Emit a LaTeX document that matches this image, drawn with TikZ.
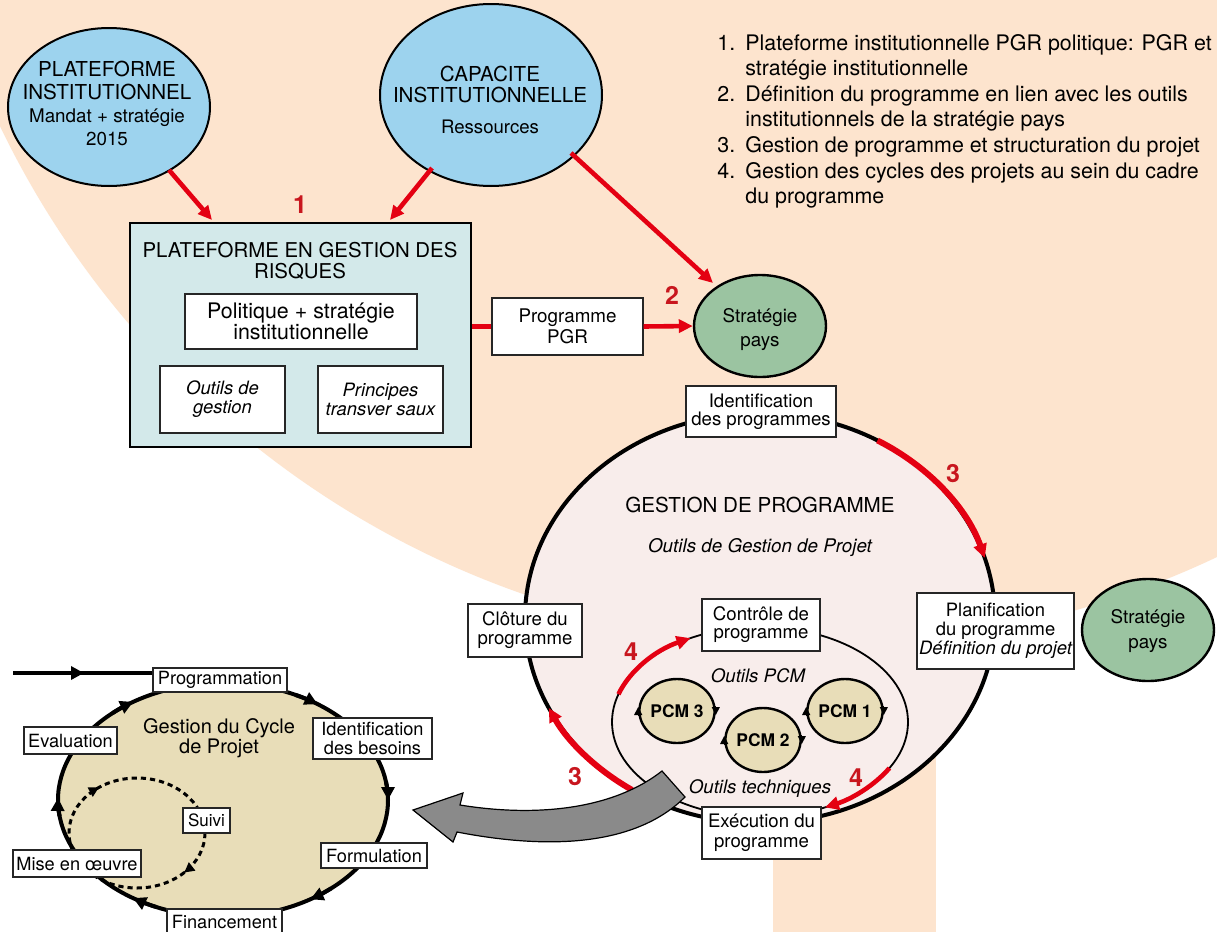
\documentclass[tikz,border=0pt]{standalone}
\usepackage{fontspec}
\setmainfont{TeX Gyre Heros}
\usetikzlibrary{arrows.meta,shapes.geometric}
\definecolor{peach}{RGB}{253,228,206}
\definecolor{skyb}{RGB}{157,211,238}
\definecolor{boxcyan}{RGB}{211,233,234}
\definecolor{sgreen}{RGB}{155,196,161}
\definecolor{tanfill}{RGB}{232,221,184}
\definecolor{pinkfill}{RGB}{248,237,235}
\definecolor{arrred}{RGB}{228,0,18}
\definecolor{numred}{RGB}{200,22,30}
\definecolor{grayarr}{RGB}{138,138,138}
\newcommand\myfs[2]{\fontsize{#1}{#2}\selectfont}
\tikzset{
  wbox/.style={draw=black!85, line width=0.6pt, fill=white, inner sep=0pt, align=center, font=\myfs{9.3}{9.4}},
  txt/.style={inner sep=0pt, align=center, font=\myfs{9.3}{9.6}},
  redline/.style={draw=arrred, line width=2.3pt},
  redarr/.style={draw=arrred, line width=2.3pt, -{Triangle[length=7pt,width=6.5pt]}},
  num/.style={inner sep=0pt, text=numred, font=\myfs{12.5}{12.5}\bfseries},
  blueell/.style={ellipse, draw=black, line width=1pt, fill=skyb, inner sep=0pt},
  greenell/.style={ellipse, draw=black, line width=1.2pt, fill=sgreen, inner sep=0pt},
  pcm/.style={ellipse, draw=black, line width=1.2pt, fill=tanfill, inner sep=0pt, minimum width=34pt, minimum height=32pt, font=\myfs{8.7}{9}\bfseries},
  tinyarr/.style={-{Triangle[length=4pt,width=4pt]}, line width=0.6pt},
  cyc/.style={-{Triangle[length=6.5pt,width=6.5pt]}, line width=2pt},
}
\begin{document}
\begin{tikzpicture}[x=0.5pt,y=-0.5pt]
\useasboundingbox (0,0) rectangle (1217,932);
\clip (0,0) rectangle (1217,932);
% background
\fill[white] (0,0) rectangle (1217,932);
\fill[peach] (825,-270) circle[radius=915];
\fill[peach] (773,300) rectangle (936,932);

% legend list
\node[anchor=base west, inner sep=0pt, font=\myfs{10.7}{12.8}] (list) at (717,50)
 {\begin{tabular}[t]{@{}p{14pt}@{}l@{}}
 1. & Plateforme institutionnelle PGR politique: PGR et\\
    & stratégie institutionnelle\\
 2. & Définition du programme en lien avec les outils\\
    & institutionnels de la stratégie pays\\
 3. & Gestion de programme et structuration du projet\\
 4. & Gestion des cycles des projets au sein du cadre\\
    & du programme
 \end{tabular}};

% top ellipses
\node[blueell, minimum width=101pt, minimum height=79pt] (e1) at (109,107) {};
\node[txt, font=\myfs{10.3}{11.5}] (e1t) at (107,103)
 {PLATEFORME\\INSTITUTIONNEL\\{\myfs{9.4}{11}Mandat + stratégie}\\{\myfs{9.4}{11}2015}};
\node[blueell, minimum width=111pt, minimum height=91pt] (e2) at (491,95) {};
\node[txt, font=\myfs{10.3}{10.7}] (e2t) at (490,100)
 {CAPACITE\\INSTITUTIONNELLE\\[5pt]{\myfs{9.3}{11}Ressources}};

\coordinate (a1s) at (169,170); \coordinate (a1e) at (212,220);
\coordinate (a2s) at (432,168); \coordinate (a2e) at (390,220);
\coordinate (a3s) at (571,153); \coordinate (a3e) at (713,283);
\draw[redarr] (a1s) -- (a1e);
\draw[redarr] (a2s) -- (a2e);
\draw[redarr] (a3s) -- (a3e);

% platform box
\node[draw=black, line width=1.4pt, fill=boxcyan, minimum width=170.5pt, minimum height=112pt, inner sep=0pt] (B) at (300.5,335) {};
\node[txt, font=\myfs{10.2}{10.5}] (Bt) at (300,260.5) {PLATEFORME EN GESTION DES\\RISQUES};
\node[wbox, minimum width=116pt, minimum height=27.5pt, font=\myfs{10.7}{10.6}] (pol) at (301,321.5) {Politique + stratégie\\institutionnelle};
\node[wbox, minimum width=62.5pt, minimum height=33.5pt, font=\myfs{9.2}{9.6}\itshape] (og) at (222.5,399.5) {Outils de\\gestion};
\node[wbox, minimum width=62.5pt, minimum height=33.5pt, font=\myfs{9.2}{9.6}\itshape] (pt) at (380.5,399.5) {Principes\\transver saux};

% programme PGR
\node[wbox, minimum width=75.5pt, minimum height=28.5pt, font=\myfs{9.4}{10.5}] (P) at (567.5,326.5) {Programme\\PGR};
\node[greenell, minimum width=66pt, minimum height=51pt] (S1) at (760,326) {};
\node[txt, font=\myfs{9.4}{12}] (S1t) at (760,330) {Stratégie\\pays};
\draw[redline] (B.east |- P.west) -- (P.west);
\draw[redarr] (P.east) -- (S1.west);

% programme management circle
\coordinate (pcC) at (760,618);
\coordinate (ieC) at (760,722);
\node[ellipse, draw=black, line width=2pt, fill=pinkfill, minimum width=235pt, minimum height=205pt, inner sep=0pt] (PC) at (pcC) {};
\node[txt, font=\myfs{10.3}{11}] (gp) at (760,505) {GESTION DE PROGRAMME};
\node[txt, font=\myfs{9.4}{10}\itshape] (ogp) at (760,548) {Outils de Gestion de Projet};
\node[ellipse, draw=black, line width=0.9pt, minimum width=148pt, minimum height=95pt, inner sep=0pt] (IE) at (ieC) {};
\node[txt, font=\myfs{9.3}{10}\itshape] (opcm) at (758,676) {Outils PCM};
\node[txt, font=\myfs{9.3}{10}\itshape] (otech) at (760,789) {Outils techniques};

\node[pcm] (p3) at (677,711) {PCM 3};
\node[pcm] (p2) at (763,740) {PCM 2};
\node[pcm] (p1) at (845,711) {PCM 1};
\foreach \p in {p1,p2,p3}{
  \draw[tinyarr] ([yshift=-2.5pt]\p.west) -- ([yshift=2pt]\p.west);
  \draw[tinyarr] ([yshift=2.5pt]\p.east) -- ([yshift=-2pt]\p.east);
}

% red arcs
\draw[redarr, line width=3pt] ([shift={(-60:235 and 205)}]pcC) arc[start angle=-60, end angle=-17, x radius=235, y radius=205];
\draw[redarr, line width=3pt] ([shift={(123:235 and 205)}]pcC) arc[start angle=123, end angle=154, x radius=235, y radius=205];
\draw[redarr] ([shift={(197:148 and 95)}]ieC) arc[start angle=197, end angle=242, x radius=148, y radius=95];
\draw[redarr] ([shift={(29:148 and 95)}]ieC) arc[start angle=29, end angle=64, x radius=148, y radius=95];

% boxes on the circle
\node[wbox, minimum width=75pt, minimum height=25.5pt, font=\myfs{9.3}{9}] (idp) at (761,411.5) {Identification\\des programmes};
\node[wbox, minimum width=78.5pt, minimum height=38pt, font=\myfs{9.2}{9.6}] (plan) at (995.5,631) {Planification\\du programme\\{\itshape Définition du projet}};
\node[wbox, minimum width=59pt, minimum height=26pt, font=\myfs{9.3}{9}] (ctrl) at (761,625) {Contrôle de\\programme};
\node[wbox, minimum width=57pt, minimum height=26.5pt, font=\myfs{9.3}{9.5}] (clo) at (525,630.5) {Clôture du\\programme};
\node[wbox, minimum width=59.5pt, minimum height=26pt, font=\myfs{9.3}{9.8}] (exe) at (761.5,833) {Exécution du\\programme};
\node[greenell, minimum width=66pt, minimum height=51pt] (S2) at (1148,630) {};
\node[txt, font=\myfs{9.4}{12.5}] (S2t) at (1148,631) {Stratégie\\pays};

% grey curved arrow
\fill[grayarr, draw=black, line width=0.6pt] (413,810) -- (463,793) -- (460,805)
  .. controls (540,818) and (615,808) .. (662,771) -- (685,797)
  .. controls (640,842) and (560,852) .. (457,832) -- (453,842) -- cycle;

% project cycle
\coordinate (cC) at (223,800);
\coordinate (dC) at (137,833);
\node[ellipse, draw=black, line width=2pt, fill=tanfill, minimum width=165pt, minimum height=117pt, inner sep=0pt] (C) at (cC) {};
\foreach \t in {-55,0,58,123,181,237}{
  \pgfmathsetmacro\s{\t-9}
  \draw[cyc] ([shift={(\s:165 and 117)}]cC) arc[start angle=\s, end angle=\t, x radius=165, y radius=117];
}
\draw[line width=1.5pt, dash pattern=on 2.6pt off 2pt] (dC) ellipse[x radius=68, y radius=55];
\draw[-{Triangle[length=5pt,width=5pt]}, line width=1.5pt] ([shift={(228:68 and 55)}]dC) arc[start angle=228, end angle=236, x radius=68, y radius=55];
\draw[-{Triangle[length=5pt,width=5pt]}, line width=1.5pt] ([shift={(38:68 and 55)}]dC) arc[start angle=38, end angle=46, x radius=68, y radius=55];
\node[txt, font=\myfs{10}{10}] (gcp) at (219,738) {Gestion du Cycle\\de Projet};

\node[wbox, minimum width=67pt, minimum height=12pt, font=\myfs{9.1}{9.4}] (prog) at (220,680) {Programmation};
\coordinate (cin) at (13,673);
\coordinate (cmid) at (84,673);
\draw[line width=2pt] (cin) -- (prog.west |- cin);
\draw[cyc] (cin) -- (cmid);
\node[wbox, minimum width=59.5pt, minimum height=20.5pt, font=\myfs{9.1}{9.4}] (idb) at (372.5,738.5) {Identification\\des besoins};
\node[wbox, minimum width=53pt, minimum height=12.5pt, font=\myfs{9.1}{9.4}] (form) at (374,855.5) {Formulation};
\node[wbox, minimum width=57.5pt, minimum height=13pt, font=\myfs{9.1}{9.4}] (fin) at (224.5,922) {Financement};
\node[wbox, minimum width=64pt, minimum height=13.5pt, font=\myfs{9.1}{9.4}] (mise) at (77,863.5) {Mise en œuvre};
\node[wbox, minimum width=46.5pt, minimum height=13.5pt, font=\myfs{9.1}{9.4}] (eval) at (70.5,740.5) {Evaluation};
\node[wbox, minimum width=23.5pt, minimum height=12.5pt, font=\myfs{8.5}{9}] (suivi) at (206.5,820.5) {Suivi};

% step numbers
\node[num] (n1) at (300,205) {1};
\node[num] (n2) at (672,295) {2};
\node[num] (n3a) at (953,474) {3};
\node[num] (n3b) at (575,777) {3};
\node[num] (n4a) at (631,652) {4};
\node[num] (n4b) at (856,778) {4};
\end{tikzpicture}
\end{document}
